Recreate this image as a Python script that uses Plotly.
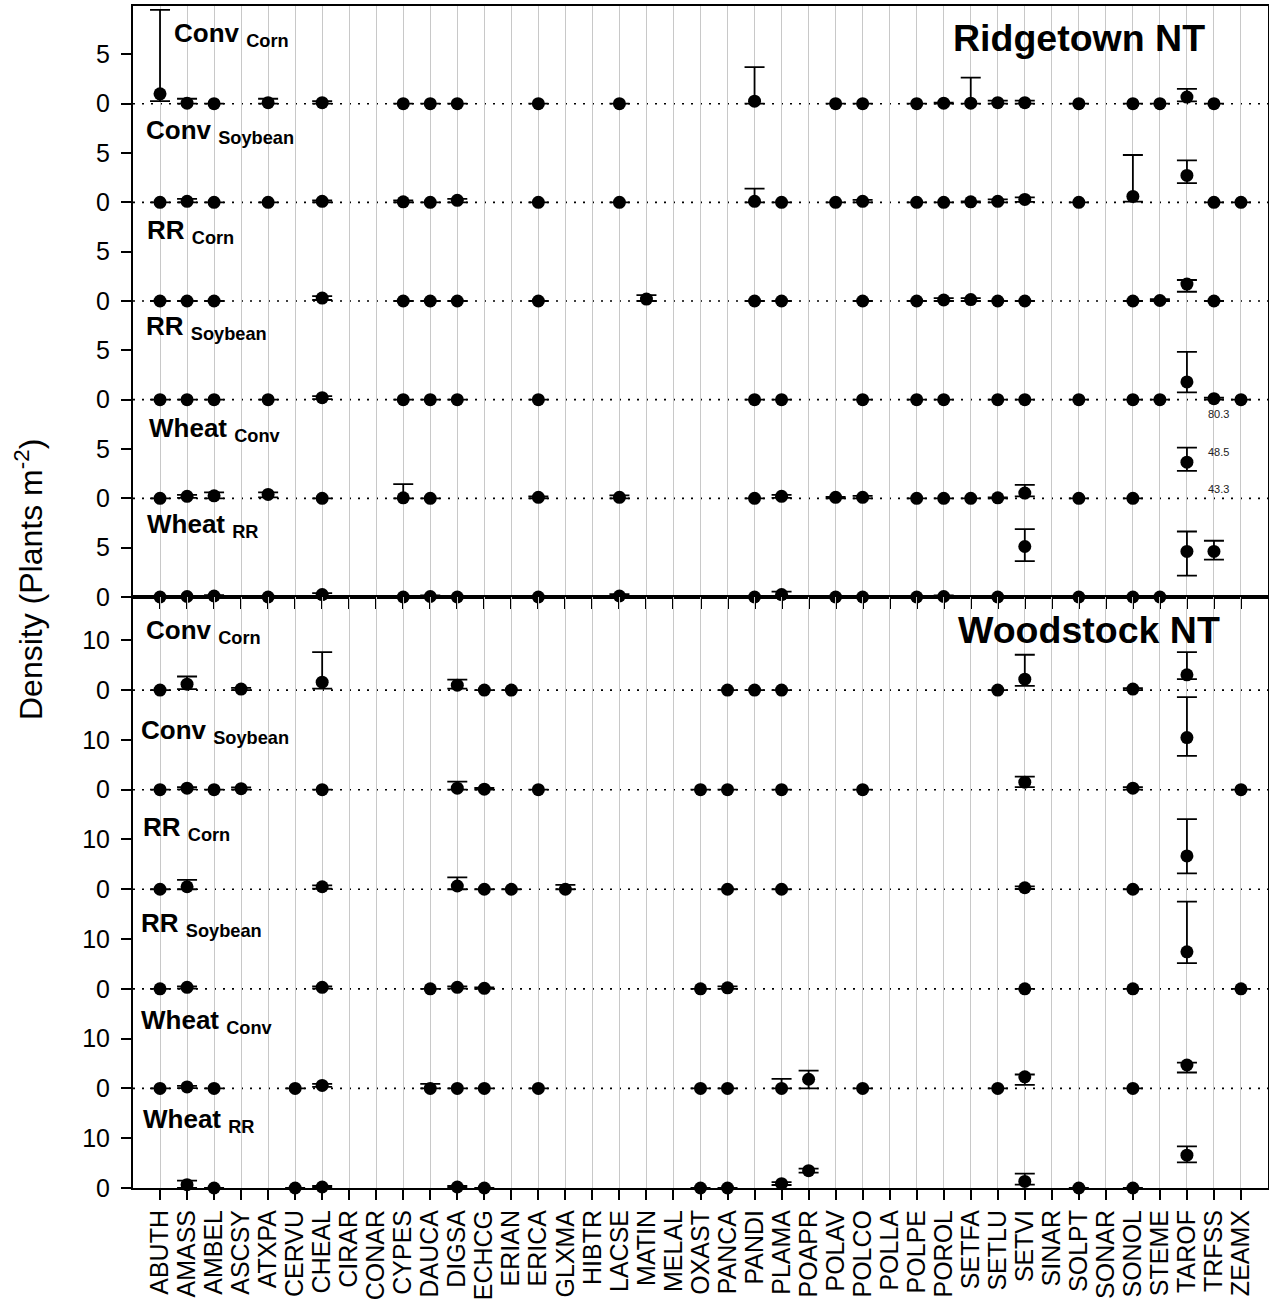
import plotly.graph_objects as go

# ---------------- data ----------------
CODES = ["ABUTH", "AMASS", "AMBEL", "ASCSY", "ATXPA", "CERVU", "CHEAL", "CIRAR", "CONAR",
         "CYPES", "DAUCA", "DIGSA", "ECHCG", "ERIAN", "ERICA", "GLXMA", "HIBTR", "LACSE",
         "MATIN", "MELAL", "OXAST", "PANCA", "PANDI", "PLAMA", "POAPR", "POLAV", "POLCO",
         "POLLA", "POLPE", "POROL", "SETFA", "SETLU", "SETVI", "SINAR", "SOLPT", "SONAR",
         "SONOL", "STEME", "TAROF", "TRFSS", "ZEAMX"]

BAND_MAIN = ["Conv", "Conv", "RR", "RR", "Wheat", "Wheat"]
BAND_SUB = ["Corn", "Soybean", "Corn", "Soybean", "Conv", "RR"]
SITES = ["Ridgetown NT", "Woodstock NT"]

# (mean, lower, upper) density, plants m-2
RT_CONV_CORN = {"ABUTH": (1.0, 0.26, 9.5), "AMASS": (0.05, 0.0, 0.5), "AMBEL": (0, 0, 0),
                "ATXPA": (0.1, 0.0, 0.5), "CHEAL": (0.1, 0.0, 0.25), "CYPES": (0, 0, 0),
                "DAUCA": (0, 0, 0), "DIGSA": (0, 0, 0), "ERICA": (0, 0, 0), "LACSE": (0, 0, 0),
                "PANDI": (0.25, 0.0, 3.7), "POLAV": (0, 0, 0), "POLCO": (0, 0, 0),
                "POLPE": (0, 0, 0), "POROL": (0.05, 0.0, 0.1), "SETFA": (0.05, 0.0, 2.65),
                "SETLU": (0.1, 0.0, 0.3), "SETVI": (0.1, 0.0, 0.3), "SOLPT": (0, 0, 0),
                "SONOL": (0, 0, 0), "STEME": (0, 0, 0), "TAROF": (0.67, 0.23, 1.5),
                "TRFSS": (0, 0, 0)}
RT_CONV_SOY = {"ABUTH": (0, 0, 0), "AMASS": (0.1, 0.0, 0.35), "AMBEL": (0, 0, 0),
               "ATXPA": (0, 0, 0), "CHEAL": (0.1, 0.0, 0.2), "CYPES": (0.05, 0.0, 0.2),
               "DAUCA": (0, 0, 0), "DIGSA": (0.2, 0.0, 0.35), "ERICA": (0, 0, 0),
               "LACSE": (0, 0, 0), "PANDI": (0.1, 0.0, 1.4), "PLAMA": (0, 0, 0),
               "POLAV": (0, 0, 0), "POLCO": (0.1, 0.0, 0.25), "POLPE": (0, 0, 0),
               "POROL": (0, 0, 0), "SETFA": (0.05, 0.0, 0.1), "SETLU": (0.1, 0.0, 0.3),
               "SETVI": (0.3, 0.05, 0.5), "SOLPT": (0, 0, 0), "SONOL": (0.6, 0.07, 4.8),
               "TAROF": (2.73, 1.95, 4.25), "TRFSS": (0, 0, 0), "ZEAMX": (0, 0, 0)}
RT_RR_CORN = {"ABUTH": (0, 0, 0), "AMASS": (0, 0, 0), "AMBEL": (0, 0, 0),
              "CHEAL": (0.3, 0.1, 0.5), "CYPES": (0, 0, 0), "DAUCA": (0, 0, 0),
              "DIGSA": (0, 0, 0), "ERICA": (0, 0, 0), "MATIN": (0.2, 0.0, 0.6),
              "PANDI": (0, 0, 0), "PLAMA": (0, 0, 0), "POLCO": (0, 0, 0), "POLPE": (0, 0, 0),
              "POROL": (0.1, 0.0, 0.3), "SETFA": (0.15, 0.0, 0.3), "SETLU": (0, 0, 0),
              "SETVI": (0, 0, 0), "SONOL": (0, 0, 0), "STEME": (0.05, 0.0, 0.2),
              "TAROF": (1.72, 0.94, 2.13), "TRFSS": (0, 0, 0)}
RT_RR_SOY = {"ABUTH": (0, 0, 0), "AMASS": (0, 0, 0), "AMBEL": (0, 0, 0), "ATXPA": (0, 0, 0),
             "CHEAL": (0.2, 0.05, 0.35), "CYPES": (0, 0, 0), "DAUCA": (0, 0, 0),
             "DIGSA": (0, 0, 0), "ERICA": (0, 0, 0), "PANDI": (0, 0, 0), "PLAMA": (0, 0, 0),
             "POLCO": (0, 0, 0), "POLPE": (0, 0, 0), "POROL": (0, 0, 0), "SETLU": (0, 0, 0),
             "SETVI": (0, 0, 0), "SOLPT": (0, 0, 0), "SONOL": (0, 0, 0), "STEME": (0, 0, 0),
             "TAROF": (1.8, 0.73, 4.84), "TRFSS": (0.1, 0.0, 0.2), "ZEAMX": (0, 0, 0)}
RT_WHEAT_CONV = {"ABUTH": (0, 0, 0), "AMASS": (0.2, 0.05, 0.35), "AMBEL": (0.25, 0.0, 0.6),
                 "ATXPA": (0.4, 0.1, 0.6), "CHEAL": (0, 0, 0), "CYPES": (0.05, 0.0, 1.45),
                 "DAUCA": (0, 0, 0), "ERICA": (0.1, 0.0, 0.2), "LACSE": (0.1, 0.0, 0.3),
                 "PANDI": (0, 0, 0), "PLAMA": (0.2, 0.05, 0.35), "POLAV": (0.1, 0.0, 0.15),
                 "POLCO": (0.1, 0.0, 0.25), "POLPE": (0, 0, 0), "POROL": (0, 0, 0),
                 "SETFA": (0, 0, 0), "SETLU": (0.05, 0.0, 0.1), "SETVI": (0.53, 0.2, 1.37),
                 "SOLPT": (0, 0, 0), "SONOL": (0, 0, 0), "TAROF": (3.66, 2.78, 5.14)}
RT_WHEAT_RR = {"ABUTH": (0, 0, 0), "AMASS": (0.05, 0.0, 0.1), "AMBEL": (0.1, 0.0, 0.2),
               "ATXPA": (0, 0, 0), "CHEAL": (0.25, 0.05, 0.4), "CYPES": (0, 0, 0),
               "DAUCA": (0.05, 0.0, 0.15), "DIGSA": (0, 0, 0), "ERICA": (0, 0, 0),
               "LACSE": (0.1, 0.0, 0.3), "PANDI": (0, 0, 0), "PLAMA": (0.25, 0.0, 0.55),
               "POLAV": (0, 0, 0), "POLCO": (0, 0, 0), "POLPE": (0, 0, 0),
               "POROL": (0.05, 0.0, 0.15), "SETLU": (0, 0, 0), "SETVI": (5.12, 3.64, 6.88),
               "SOLPT": (0, 0, 0), "SONOL": (0, 0, 0), "STEME": (0, 0, 0),
               "TAROF": (4.62, 2.16, 6.64), "TRFSS": (4.62, 3.78, 5.7)}

WS_CONV_CORN = {"ABUTH": (0, 0, 0), "AMASS": (1.2, 0.2, 2.73), "ASCSY": (0.2, 0.0, 0.45),
                "CHEAL": (1.6, 0.3, 7.63), "DIGSA": (1.0, 0.3, 2.1), "ECHCG": (0, 0, 0),
                "ERIAN": (0, 0, 0), "PANCA": (0, 0, 0), "PANDI": (0, 0, 0), "PLAMA": (0, 0, 0),
                "SETLU": (0, 0, 0), "SETVI": (2.2, 0.86, 7.1), "SONOL": (0.2, 0.0, 0.4),
                "TAROF": (3.07, 2.2, 7.63)}
WS_CONV_SOY = {"ABUTH": (0, 0, 0), "AMASS": (0.3, 0.05, 0.5), "AMBEL": (0, 0, 0),
               "ASCSY": (0.2, 0.0, 0.45), "CHEAL": (0, 0, 0), "DIGSA": (0.3, 0.0, 1.6),
               "ECHCG": (0.1, 0.0, 0.35), "ERICA": (0, 0, 0), "OXAST": (0, 0, 0),
               "PANCA": (0, 0, 0), "PLAMA": (0, 0, 0), "POLCO": (0, 0, 0),
               "SETVI": (1.5, 0.5, 2.64), "SONOL": (0.3, 0.0, 0.5),
               "TAROF": (10.46, 6.79, 18.58), "ZEAMX": (0, 0, 0)}
WS_RR_CORN = {"ABUTH": (0, 0, 0), "AMASS": (0.5, 0.0, 1.87), "CHEAL": (0.5, 0.1, 0.8),
              "DIGSA": (0.66, 0.0, 2.4), "ECHCG": (0, 0, 0), "ERIAN": (0, 0, 0),
              "GLXMA": (0, 0, 0.9), "PANCA": (0, 0, 0), "PLAMA": (0, 0, 0),
              "SETVI": (0.3, 0.05, 0.6), "SONOL": (0, 0, 0), "TAROF": (6.69, 3.2, 14.1)}
WS_RR_SOY = {"ABUTH": (0, 0, 0), "AMASS": (0.3, 0.05, 0.5), "CHEAL": (0.3, 0.05, 0.5),
             "DAUCA": (0, 0, 0), "DIGSA": (0.3, 0.05, 0.5), "ECHCG": (0.1, 0.0, 0.3),
             "OXAST": (0, 0, 0), "PANCA": (0.2, 0.0, 0.5), "SETVI": (0, 0, 0),
             "SONOL": (0, 0, 0), "TAROF": (7.43, 5.15, 17.5), "ZEAMX": (0, 0, 0)}
WS_WHEAT_CONV = {"ABUTH": (0, 0, 0), "AMASS": (0.3, 0.05, 0.5), "AMBEL": (0, 0, 0),
                 "CERVU": (0, 0, 0), "CHEAL": (0.6, 0.3, 0.9), "DAUCA": (0, 0, 0.9),
                 "DIGSA": (0, 0, 0), "ECHCG": (0, 0, 0), "ERICA": (0, 0, 0),
                 "OXAST": (0, 0, 0), "PANCA": (0, 0, 0), "PLAMA": (0, 0, 1.9),
                 "POAPR": (1.84, 0.0, 3.57), "POLCO": (0, 0, 0), "SETLU": (0, 0, 0),
                 "SETVI": (2.33, 0.7, 2.8), "SONOL": (0, 0, 0), "TAROF": (4.7, 3.2, 5.2)}
WS_WHEAT_RR = {"AMASS": (0.66, 0.0, 1.47), "AMBEL": (0, 0, 0), "CERVU": (0, 0, 0),
               "CHEAL": (0.2, 0.0, 0.4), "DIGSA": (0.2, 0.0, 0.4), "ECHCG": (0, 0, 0),
               "OXAST": (0, 0, 0), "PANCA": (0, 0, 0), "PLAMA": (0.86, 0.6, 1.2),
               "POAPR": (3.47, 3.1, 3.9), "SETVI": (1.33, 0.66, 2.87), "SOLPT": (0, 0, 0),
               "SONOL": (0, 0, 0), "TAROF": (6.6, 5.15, 8.36)}

OFFSCALE_LABELS = ["80.3", "48.5", "43.3"]

RT_SERIES = [RT_CONV_CORN, RT_CONV_SOY, RT_RR_CORN, RT_RR_SOY, RT_WHEAT_CONV, RT_WHEAT_RR]
WS_SERIES = [WS_CONV_CORN, WS_CONV_SOY, WS_RR_CORN, WS_RR_SOY, WS_WHEAT_CONV, WS_WHEAT_RR]

# ---------------- layout constants ----------------
W, H = 1269, 1310
ML, MR, MT, MB = 133, 1, 6, 122
PW, PH = W - ML - MR, H - MT - MB
FONT = "Liberation Sans, Arial, sans-serif"
RT_STEP, WS_STEP = 10, 20
RT_RANGE, WS_RANGE = 59.9, 118.7


def px_x(px):
    return (px - ML) / PW


def px_y(py):
    return 1 - (py - MT) / PH


fig = go.Figure()

for series, step, yref in ((RT_SERIES, RT_STEP, "y"), (WS_SERIES, WS_STEP, "y2")):
    for i, d in enumerate(series):
        off = (5 - i) * step
        codes = list(d.keys())
        means = [d[c][0] for c in codes]
        lows = [d[c][1] for c in codes]
        highs = [d[c][2] for c in codes]
        fig.add_trace(go.Scatter(
            x=codes, y=[off + m for m in means],
            xaxis="x" if yref == "y" else "x2", yaxis=yref,
            mode="markers", cliponaxis=False, showlegend=False,
            marker=dict(color="black", size=13, line=dict(width=0)),
            error_y=dict(type="data", symmetric=False,
                         array=[h - m for h, m in zip(highs, means)],
                         arrayminus=[m - l for m, l in zip(means, lows)],
                         color="black", thickness=1.8, width=10),
        ))

shapes = []
for step, xr, yr in ((RT_STEP, "x domain", "y"), (WS_STEP, "x2 domain", "y2")):
    for k in range(1, 6):
        shapes.append(dict(type="line", xref=xr, yref=yr, x0=0, x1=1, y0=k * step, y1=k * step,
                           layer="below", line=dict(color="black", width=1.6, dash="2px,7px")))

annotations = []
# band labels: (left px, baseline px)
RT_LABEL_POS = [(174, 41.7), (146, 138.3), (147, 238.3), (146, 335), (149, 436.7), (146.5, 532.3)]
WS_LABEL_POS = [(146, 638.3), (141, 739), (142.5, 836), (141, 931.7), (140.5, 1029), (143, 1127.7)]
LS = 26
for pos_list in (RT_LABEL_POS, WS_LABEL_POS):
    for (lx, by), main, sub in zip(pos_list, BAND_MAIN, BAND_SUB):
        annotations.append(dict(
            xref="paper", yref="paper", x=px_x(lx - 2), y=px_y(by - 0.274 * LS),
            xanchor="left", yanchor="middle", showarrow=False,
            text=f"<b>{main}</b> <sub><b>{sub}</b></sub>",
            font=dict(family=FONT, size=LS, color="black")))

TS = 37.5
for name, lx, by in ((SITES[0], 953, 50.7), (SITES[1], 958, 643.3)):
    annotations.append(dict(
        xref="paper", yref="paper", x=px_x(lx - 2), y=px_y(by - 0.347 * TS),
        xanchor="left", yanchor="middle", showarrow=False, text=f"<b>{name}</b>",
        font=dict(family=FONT, size=TS, color="black")))

for txt, cy in zip(OFFSCALE_LABELS, (414, 452.5, 489)):
    annotations.append(dict(
        xref="paper", yref="paper", x=px_x(1218), y=px_y(cy), xanchor="center",
        yanchor="middle", showarrow=False, text=txt,
        font=dict(family=FONT, size=11, color="#222222")))

annotations.append(dict(
    xref="paper", yref="paper", x=px_x(29), y=px_y(580), xanchor="center", yanchor="middle",
    showarrow=False, textangle=-90, text="Density (Plants m<sup>-2</sup>)",
    font=dict(family=FONT, size=32, color="black")))

xcommon = dict(type="category", categoryarray=CODES, categoryorder="array", range=[-1, 41],
               tickmode="array", tickvals=CODES, ticktext=CODES, automargin=False,
               showgrid=True, gridcolor="#c8c8c8", gridwidth=1, zeroline=False,
               ticks="outside", ticklen=10, tickwidth=1.6, tickcolor="black",
               showline=True, linecolor="black", linewidth=2, mirror=True,
               tickfont=dict(family=FONT, size=25, color="black"))
ycommon = dict(showgrid=False, zeroline=False, ticks="outside", ticklen=10, tickwidth=1.6,
               tickcolor="black", showline=True, linecolor="black", linewidth=2, mirror=True,
               automargin=False, ticklabelstandoff=6,
               tickfont=dict(family=FONT, size=25, color="black"))

fig.update_layout(
    width=W, height=H, margin=dict(l=ML, r=MR, t=MT, b=MB, autoexpand=False),
    paper_bgcolor="white", plot_bgcolor="white",
    font=dict(family=FONT, color="black"),
    xaxis=dict(**xcommon, anchor="y", showticklabels=False),
    xaxis2=dict(**xcommon, anchor="y2", showticklabels=True, tickangle=-90),
    yaxis=dict(**ycommon, domain=[0.5, 1], range=[0, RT_RANGE],
               tickvals=[k * 5 for k in range(12)],
               ticktext=["0" if k % 2 == 0 else "5" for k in range(12)]),
    yaxis2=dict(**ycommon, domain=[0, 0.5], range=[0, WS_RANGE],
                tickvals=[k * 10 for k in range(12)],
                ticktext=["0" if k % 2 == 0 else "10" for k in range(12)]),
    shapes=shapes, annotations=annotations,
)

fig.write_html(
    "out.html",
    config={"displayModeBar": False},
    post_script="document.body.style.margin='0';document.body.style.overflow='hidden';",
)
